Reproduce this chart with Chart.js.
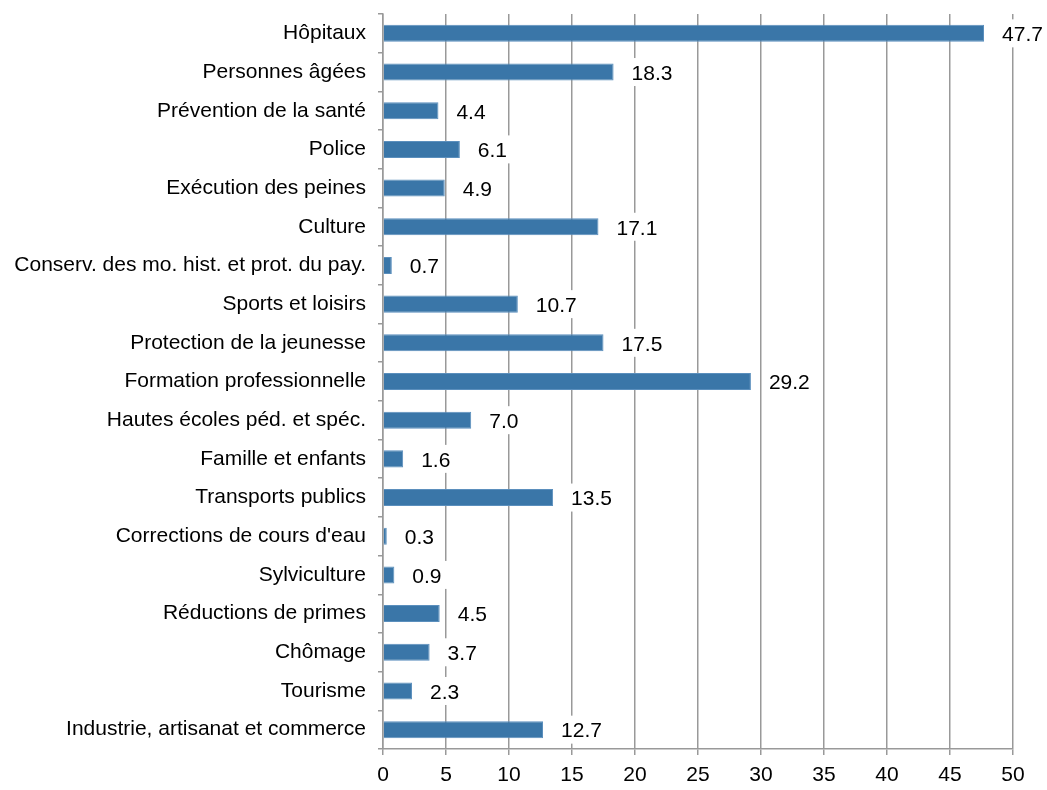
<!DOCTYPE html>
<html>
<head>
<meta charset="utf-8">
<script src="https://cdn.jsdelivr.net/npm/chart.js@4"></script>
<style>
  html, body { margin: 0; padding: 0; background: #fff; }
  #wrap { width: 1047px; height: 790px; }
</style>
</head>
<body>
<div id="wrap"><canvas id="chartContainer"></canvas></div>
<script>
// categories and values
var categories = [
    'Hôpitaux',
    'Personnes âgées',
    'Prévention de la santé',
    'Police',
    'Exécution des peines',
    'Culture',
    'Conserv. des mo. hist. et prot. du pay.',
    'Sports et loisirs',
    'Protection de la jeunesse',
    'Formation professionnelle',
    'Hautes écoles péd. et spéc.',
    'Famille et enfants',
    'Transports publics',
    "Corrections de cours d'eau",
    'Sylviculture',
    'Réductions de primes',
    'Chômage',
    'Tourisme',
    'Industrie, artisanat et commerce'
];
var values = [47.7, 18.3, 4.4, 6.1, 4.9, 17.1, 0.7, 10.7, 17.5, 29.2, 7.0, 1.6, 13.5, 0.3, 0.9, 4.5, 3.7, 2.3, 12.7];
var xTicks = [0, 5, 10, 15, 20, 25, 30, 35, 40, 45, 50];

var FONT = 'Liberation Sans';
var FSIZE = 21;

// value labels with a white box, right of each bar
var valueLabels = {
    id: 'valueLabels',
    afterDatasetsDraw: function (chart) {
        var ctx = chart.ctx;
        var meta = chart.getDatasetMeta(0);
        ctx.save();
        ctx.font = FSIZE + 'px "' + FONT + '"';
        ctx.textBaseline = 'middle';
        ctx.textAlign = 'left';
        meta.data.forEach(function (bar, i) {
            var txt = values[i].toFixed(1);
            var w = ctx.measureText(txt).width;
            var x = bar.x + 18;
            var y = bar.y;
            ctx.fillStyle = '#ffffff';
            ctx.fillRect(x - 6, y - 14, w + 12, 28);
            ctx.fillStyle = '#000000';
            ctx.fillText(txt, x, y + 2);
        });
        ctx.restore();
    }
};

var ctx = document.getElementById('chartContainer').getContext('2d');
var myChart = new Chart(ctx, {
    type: 'bar',
    data: {
        labels: categories,
        datasets: [{
            data: values,
            backgroundColor: '#3a76a8',
            borderColor: '#5b8fbd',
            borderWidth: 1,
            barPercentage: 0.88,
            categoryPercentage: 0.5
        }]
    },
    options: {
        indexAxis: 'y',
        responsive: true,
        maintainAspectRatio: false,
        animation: false,
        layout: { padding: { top: 14, right: 34, left: 0, bottom: 0 } },
        plugins: {
            legend: { display: false },
            tooltip: { enabled: false }
        },
        scales: {
            x: {
                min: 0,
                max: 50,
                afterBuildTicks: function (scale) {
                    scale.ticks = xTicks.map(function (v) { return { value: v }; });
                },
                afterFit: function (scale) { scale.height = 41; },
                grid: {
                    color: '#999999',
                    lineWidth: 1.5,
                    tickLength: 6,
                    tickColor: '#999999'
                },
                border: { color: '#999999', width: 1.5 },
                ticks: {
                    color: '#000',
                    font: { family: FONT, size: FSIZE },
                    padding: 8,
                    maxRotation: 0
                }
            },
            y: {
                afterFit: function (scale) {
                    scale.width = 383;
                    scale.paddingTop = 0;
                    scale.paddingBottom = 0;
                },
                grid: {
                    drawOnChartArea: false,
                    offset: true,
                    tickLength: 5,
                    tickColor: '#999999',
                    lineWidth: 1.5
                },
                border: { color: '#999999', width: 1.5 },
                ticks: {
                    color: '#000',
                    font: { family: FONT, size: FSIZE },
                    padding: 12,
                    autoSkip: false
                }
            }
        }
    },
    plugins: [valueLabels]
});
</script>
</body>
</html>
